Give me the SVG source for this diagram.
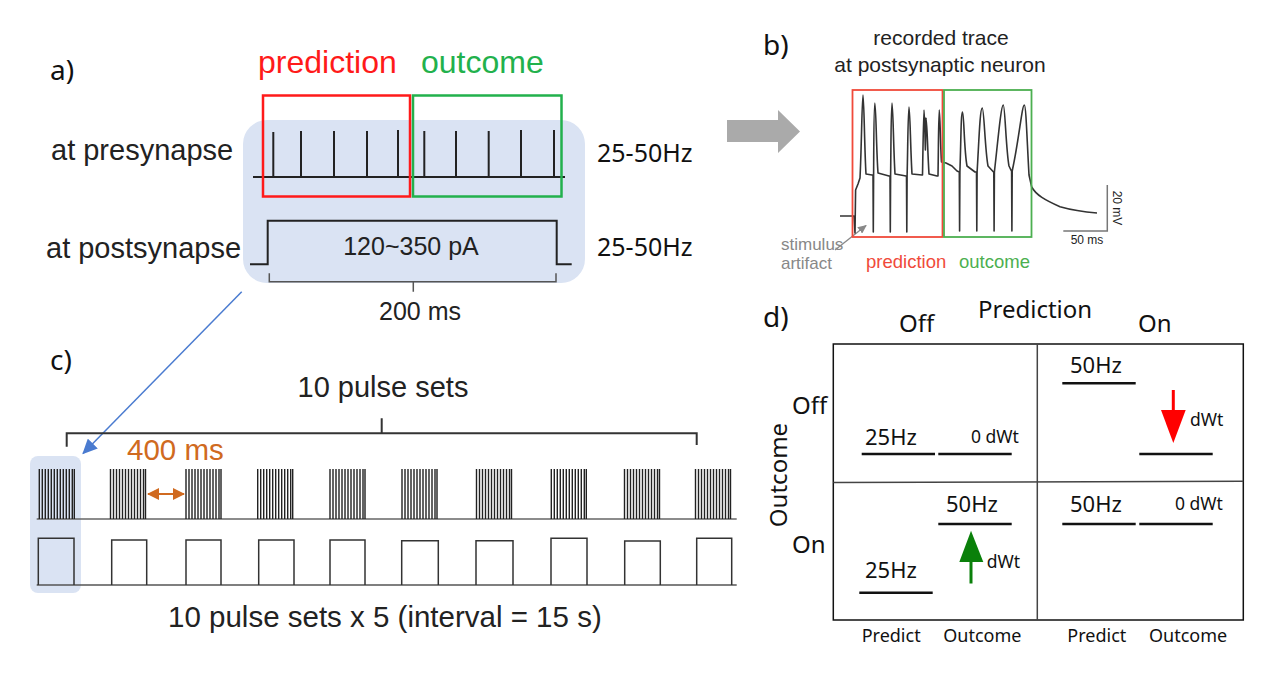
<svg xmlns="http://www.w3.org/2000/svg" width="1280" height="673" viewBox="0 0 1280 673">
<style>
.sans{font-family:"Liberation Sans",Arial,sans-serif;fill:#222}
.noto{font-family:"Noto Sans","Open Sans",sans-serif;fill:#111}
.trace{fill:none;stroke:#333;stroke-width:1.6;stroke-linejoin:round}
.blk{fill:none;stroke:#222;stroke-width:2}
.gry{fill:none;stroke:#555;stroke-width:1.5}
.bar{stroke:#111;stroke-width:2.5}
.shade{fill:#dae3f3}
</style>
<defs>
<marker id="blueHead" markerUnits="userSpaceOnUse" markerWidth="16" markerHeight="14" refX="14" refY="7" orient="auto"><path d="M0,0 L15,7 L0,14 Z" fill="#4a7bd0"/></marker>
<marker id="orHead" markerUnits="userSpaceOnUse" markerWidth="12" markerHeight="12" refX="11" refY="6" orient="auto-start-reverse"><path d="M0,0 L12,6 L0,12 Z" fill="#d06a20"/></marker>
<marker id="grHead" markerUnits="userSpaceOnUse" markerWidth="9" markerHeight="8" refX="8" refY="4" orient="auto"><path d="M0,0 L9,4 L0,8 Z" fill="#888"/></marker>
<path id="burst" d="M0,0 v-50 M3,0 v-50 M6,0 v-50 M9,0 v-50 M12,0 v-50 M15,0 v-50 M18,0 v-50 M21,0 v-50 M24,0 v-50 M27,0 v-50 M30,0 v-50 M33,0 v-50 M35,0 v-50" fill="none" stroke="#222" stroke-width="1.4"/>
</defs>

<g id="panel-a">
<rect class="shade" x="243" y="120" width="342" height="163" rx="24"/>
<text class="noto" x="50" y="80" font-size="28">a)</text>
<text class="sans" x="258" y="73" font-size="32" style="fill:#ff1a1a">prediction</text>
<text class="sans" x="421" y="73" font-size="32" style="fill:#22b14c">outcome</text>
<text class="sans" x="51" y="160" font-size="29">at presynapse</text>
<text class="sans" x="46" y="258" font-size="29">at postsynapse</text>
<g id="presyn-train">
<line x1="253" y1="177" x2="565" y2="177" stroke="#222" stroke-width="2"/>
<path class="blk" d="M273.3,177V132 M301,177V131 M334,177V131 M367,177V131 M398,177V130 M424.3,177V131 M456,177V131 M488.7,177V131 M521,177V130 M554,177V130"/>
</g>
<rect id="pred-box" x="263" y="95.5" width="147" height="101" fill="none" stroke="#ff1a1a" stroke-width="2.5"/>
<rect id="out-box" x="413" y="95.5" width="148.5" height="101" fill="none" stroke="#22b14c" stroke-width="2.5"/>
<path id="postsyn-pulse" class="blk" d="M250,264.3 H267.7 V220.7 H556.7 V264.3 H571.7"/>
<text class="sans" x="411" y="255" font-size="25" text-anchor="middle">120~350 pA</text>
<path id="brace-a" class="gry" d="M269.3,273.3 V281.7 H556 V273.3 M413.3,281.7 V291.7"/>
<text class="sans" x="420" y="320" font-size="25" text-anchor="middle">200 ms</text>
<text class="noto" x="597" y="162" font-size="25">25-50Hz</text>
<text class="noto" x="597" y="256" font-size="25">25-50Hz</text>
</g>

<g id="connectors">
<polygon id="big-arrow" points="727,120 778,120 778,110 800,131.5 778,153 778,142 727,142" fill="#aaa"/>
<line id="zoom-arrow" x1="241.7" y1="291.7" x2="83" y2="453.5" stroke="#4a7bd0" stroke-width="1.5" marker-end="url(#blueHead)"/>
<line id="artifact-arrow" x1="835" y1="250" x2="866" y2="225.5" stroke="#888" stroke-width="1.3" marker-end="url(#grHead)"/>
<line id="interval-arrow" x1="148" y1="494" x2="184" y2="494" stroke="#d06a20" stroke-width="2" marker-start="url(#orHead)" marker-end="url(#orHead)"/>
</g>

<g id="panel-b">
<text class="noto" x="763" y="55" font-size="28">b)</text>
<text class="sans" x="941" y="45" font-size="21" text-anchor="middle">recorded trace</text>
<text class="sans" x="940" y="72" font-size="21" text-anchor="middle">at postsynaptic neuron</text>
<path id="trace" class="trace" d="M840,216 L854,216 L855,233 L855.6,190 L858,184 L860,178 C861.5,150 862,95 863,95 C864,95 864.5,150 866,174 L872,175
L873,175 L873.3,232 L873.6,176 C873.8,150 873.8,103 874.8,103 C876,103 876.3,150 878,173 L889,176
L890,176 L890.3,232 L890.6,176 C891,150 891,103 892,103 C893,103 893.5,150 895,174 L906,176
L906.5,176 L906.8,232 L907.1,176 C907.8,150 908,107 909,107 C910,107 910.5,150 912,174 L922,175
L922.5,175 C923,150 923.5,110 924,110 C924.6,110 925,140 925.4,150 L926,118 C927,118 927.5,150 929,174 L937,176
L938,176 C938.5,150 938.5,110 939.3,110 C940,110 940.5,150 941.5,162 L946,163 L952,166 L957,171
L959.3,172 L959.6,231 L959.9,172 C961,140 961,112 962.5,112 C964,112 964,150 967,166 L975,172
L976.5,172 L976.8,231 L977.1,172 C979,140 980,108 982.3,108 C984,108 985,150 988,166 L993.5,172
L993.8,172 L994.1,231 L994.4,172 C998,140 1001,105 1003.3,105 C1005,105 1006,150 1009,166 L1011.4,171
L1011.6,171 L1011.9,231 L1012.2,171 C1019,140 1022,105 1024.3,105 C1026,105 1027,140 1029,175 L1031.7,187 C1036,195 1045,200 1060,206.7 C1075,211 1085,212 1097,213"/>
<rect x="852.5" y="90" width="90" height="147" fill="none" stroke="#f04a3a" stroke-width="1.8"/>
<rect x="944" y="90" width="87.5" height="147" fill="none" stroke="#4caf50" stroke-width="1.8"/>
<path id="scale-bar" d="M1063.3,231 H1107.3 V185" fill="none" stroke="#777" stroke-width="1.5"/>
<text class="sans" x="1087" y="244" font-size="12" text-anchor="middle">50 ms</text>
<text class="sans" font-size="12" text-anchor="middle" transform="translate(1113,208) rotate(90)">20 mV</text>
<text class="sans" x="781" y="250" font-size="17" style="fill:#888">stimulus</text>
<text class="sans" x="781" y="269" font-size="17" style="fill:#888">artifact</text>
<text class="sans" x="866" y="268" font-size="18.5" style="fill:#f04a3a">prediction</text>
<text class="sans" x="959" y="268" font-size="18.5" style="fill:#4caf50">outcome</text>
</g>

<g id="panel-c">
<text class="noto" x="50" y="370" font-size="28">c)</text>
<text class="sans" x="383" y="397" font-size="29" text-anchor="middle">10 pulse sets</text>
<path id="brace-c" d="M66.7,446.7 V433.3 H696.7 V445 M381.7,433.3 V418.3" fill="none" stroke="#333" stroke-width="2"/>
<rect class="shade" x="30" y="456" width="51" height="137" rx="8"/>
<text class="sans" x="127" y="460" font-size="29.5" style="fill:#d06a20">400 ms</text>
<line x1="36.7" y1="519" x2="736.7" y2="519" stroke="#666" stroke-width="1.5"/>
<g id="bursts">
<use href="#burst" x="39.3" y="519"/>
<use href="#burst" x="110.5" y="519"/>
<use href="#burst" x="186" y="519"/>
<use href="#burst" x="257.7" y="519"/>
<use href="#burst" x="330" y="519"/>
<use href="#burst" x="402" y="519"/>
<use href="#burst" x="476.5" y="519"/>
<use href="#burst" x="551.3" y="519"/>
<use href="#burst" x="624.5" y="519"/>
<use href="#burst" x="695.5" y="519"/>
</g>
<line x1="36.7" y1="585" x2="736.7" y2="585" stroke="#555" stroke-width="1.5"/>
<path id="pulses" d="M38.3,585 V538.3 H74 V585 M111.7,585 V540 H146.7 V585 M186,585 V540 H221 V585 M258.7,585 V540 H294 V585 M330,585 V540 H365 V585 M401.7,585 V540.7 H438.3 V585 M476,585 V540.7 H513 V585 M551,585 V538.3 H587 V585 M624.7,585 V541 H660.3 V585 M696.7,585 V538.3 H731.7 V585" fill="none" stroke="#333" stroke-width="1.5"/>
<text class="sans" x="168" y="627" font-size="29.5">10 pulse sets x 5 (interval = 15 s)</text>
</g>

<g id="panel-d">
<text class="noto" x="763" y="327" font-size="28">d)</text>
<text class="noto" x="978" y="318" font-size="24">Prediction</text>
<text class="noto" x="899" y="332" font-size="24">Off</text>
<text class="noto" x="1138" y="332" font-size="24">On</text>
<text class="noto" font-size="24" text-anchor="middle" transform="translate(787,475) rotate(-90)">Outcome</text>
<text class="noto" x="792" y="414" font-size="24">Off</text>
<text class="noto" x="792" y="553" font-size="24">On</text>
<rect x="833.3" y="344" width="410" height="276" fill="none" stroke="#111" stroke-width="1.5"/>
<line x1="1037.3" y1="344" x2="1037.3" y2="620" stroke="#444" stroke-width="1.5"/>
<line x1="833.3" y1="482.5" x2="1243.3" y2="481.3" stroke="#444" stroke-width="1.5"/>
<g id="cell-off-off">
<text class="noto" x="865" y="445" font-size="22">25Hz</text>
<line class="bar" x1="861.7" y1="454" x2="935" y2="454"/>
<text class="noto" x="971" y="443" font-size="17.5">0 dWt</text>
<line class="bar" x1="938.3" y1="454" x2="1011.7" y2="454"/>
</g>
<g id="cell-on-off">
<text class="noto" x="1070" y="373" font-size="22">50Hz</text>
<line class="bar" x1="1062.3" y1="383.3" x2="1135.7" y2="383.3"/>
<line x1="1173.3" y1="390" x2="1173.3" y2="412" stroke="#ff0000" stroke-width="3"/>
<polygon points="1161,410 1185.7,410 1173.3,443" fill="#ff0000"/>
<text class="noto" x="1190" y="426" font-size="17.5">dWt</text>
<line class="bar" x1="1139.3" y1="454" x2="1212.7" y2="454"/>
</g>
<g id="cell-off-on">
<text class="noto" x="946" y="512" font-size="22">50Hz</text>
<line class="bar" x1="938.3" y1="524" x2="1011.7" y2="524"/>
<line x1="971" y1="583.5" x2="971" y2="560" stroke="#0a800a" stroke-width="3"/>
<polygon points="959.3,562 983.3,562 971,530.7" fill="#0a800a"/>
<text class="noto" x="986.7" y="568" font-size="17.5">dWt</text>
<text class="noto" x="865" y="578" font-size="22">25Hz</text>
<line class="bar" x1="859.3" y1="592.7" x2="932.7" y2="592.7"/>
</g>
<g id="cell-on-on">
<text class="noto" x="1070" y="512" font-size="22">50Hz</text>
<line class="bar" x1="1062.3" y1="524" x2="1135.7" y2="524"/>
<text class="noto" x="1175" y="510" font-size="17.5">0 dWt</text>
<line class="bar" x1="1139.3" y1="524" x2="1212.7" y2="524"/>
</g>
<text class="noto" x="861.7" y="642" font-size="18">Predict</text>
<text class="noto" x="943.3" y="642" font-size="18">Outcome</text>
<text class="noto" x="1067.3" y="642" font-size="18">Predict</text>
<text class="noto" x="1149" y="642" font-size="18">Outcome</text>
</g>
</svg>
